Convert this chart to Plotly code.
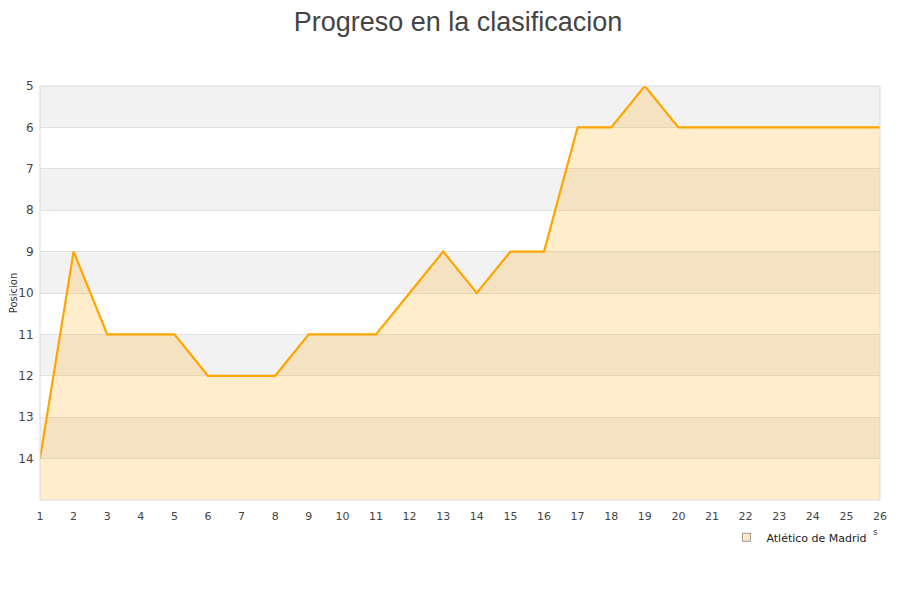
import plotly.graph_objects as go

jornadas = list(range(1, 27))
posiciones = [14, 9, 11, 11, 11, 12, 12, 12, 11, 11, 11, 10, 9, 10, 9, 9, 6, 6, 5, 6, 6, 6, 6, 6, 6, 6]
y_ticks = list(range(5, 15))
equipo = "Atlético de Madrid"

fig = go.Figure()

# baseline for area fill
fig.add_trace(go.Scatter(x=jornadas, y=[15] * len(jornadas), mode="lines",
                         line=dict(width=0, color="rgba(0,0,0,0)"),
                         showlegend=False, hoverinfo="skip"))
fig.add_trace(go.Scatter(x=jornadas, y=posiciones, mode="lines",
                         line=dict(color="#ffa500", width=2.2),
                         fill="tonexty", fillcolor="rgba(255,165,0,0.2)",
                         showlegend=False, name=equipo))
# legend entry
fig.add_trace(go.Scatter(x=[None], y=[None], mode="markers", name=equipo,
                         marker=dict(symbol="square", size=8, color="#ffe9c2",
                                     line=dict(color="#999999", width=1))))

shapes = []
for i, t in enumerate(range(5, 15)):
    if i % 2 == 0:
        shapes.append(dict(type="rect", xref="paper", yref="y", x0=0, x1=1,
                           y0=t, y1=t + 1, fillcolor="#f2f2f2",
                           line=dict(width=0), layer="below"))
shapes.append(dict(type="rect", xref="paper", yref="paper", x0=0, x1=1, y0=0, y1=1,
                   line=dict(color="#d9d9d9", width=1), fillcolor="rgba(0,0,0,0)",
                   layer="above"))

fig.update_layout(
    width=900, height=600,
    margin=dict(l=32, r=28, t=78, b=108, autoexpand=False),
    paper_bgcolor="white", plot_bgcolor="white",
    title=dict(text="Progreso en la clasificacion", x=0.5, xanchor="center",
               y=0.993, yanchor="top",
               font=dict(family="Liberation Sans, Arial", size=27, color="#444444")),
    shapes=shapes,
    showlegend=True,
    legend=dict(orientation="h", x=0.991, xanchor="right", y=-0.055, yanchor="top",
                font=dict(family="DejaVu Sans", size=11, color="#222222"),
                bgcolor="rgba(0,0,0,0)", itemwidth=30),
    font=dict(family="DejaVu Sans", size=11, color="#444444"),
)

fig.update_xaxes(range=[1, 26], tickvals=jornadas, ticktext=[str(j) for j in jornadas],
                 showgrid=False, zeroline=False, showline=False, automargin=False,
                 ticks="outside", ticklen=6, tickcolor="rgba(0,0,0,0)",
                 tickfont=dict(family="DejaVu Sans", size=11, color="#444444"))
fig.update_yaxes(range=[15, 5], tickvals=y_ticks, ticktext=[str(v) for v in y_ticks],
                 showgrid=True, gridcolor="#e0e0e0", gridwidth=1, zeroline=False,
                 showline=False, ticks="outside", ticklen=3, tickcolor="rgba(0,0,0,0)",
                 automargin=False,
                 tickfont=dict(family="DejaVu Sans", size=12, color="#444444"),
                 title=dict(text="Posicion", standoff=0,
                            font=dict(family="DejaVu Sans", size=10, color="#333333")))

fig.add_annotation(text="s", xref="paper", yref="paper", x=1.0, y=-0.094,
                   showarrow=False, font=dict(family="DejaVu Sans", size=9, color="#444444"))

fig.write_html("out.html")
